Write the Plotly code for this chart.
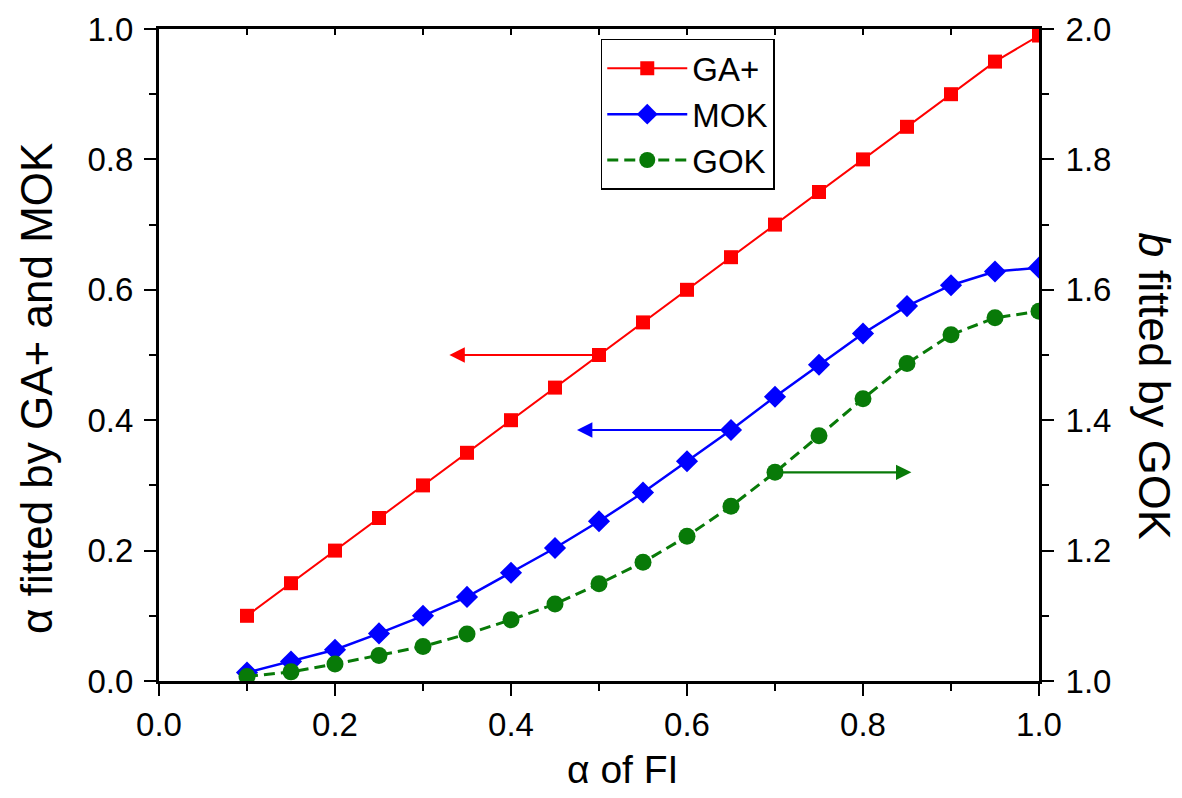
import plotly.graph_objects as go

alpha_fi = [0.1, 0.15, 0.2, 0.25, 0.3, 0.35, 0.4, 0.45, 0.5, 0.55,
            0.6, 0.65, 0.7, 0.75, 0.8, 0.85, 0.9, 0.95, 1.0]
ga_plus = [0.1, 0.15, 0.2, 0.25, 0.3, 0.35, 0.4, 0.45, 0.5, 0.55,
           0.6, 0.65, 0.7, 0.75, 0.8, 0.85, 0.9, 0.95, 0.99]
mok = [0.013, 0.030, 0.048, 0.073, 0.100, 0.129, 0.166, 0.204, 0.245, 0.289,
       0.337, 0.385, 0.436, 0.485, 0.533, 0.575, 0.607, 0.628, 0.634]
gok = [1.007, 1.014, 1.026, 1.039, 1.053, 1.072, 1.094, 1.118, 1.149, 1.182,
       1.222, 1.268, 1.320, 1.376, 1.433, 1.487, 1.531, 1.557, 1.567]

FONT = "Liberation Sans, Arial, sans-serif"
BLACK = "#000000"

fig = go.Figure()
fig.add_trace(go.Scatter(x=alpha_fi, y=ga_plus, name="GA+", mode="lines+markers",
                         line=dict(color="#ff0000", width=2),
                         marker=dict(symbol="square", size=14, color="#ff0000")))
fig.add_trace(go.Scatter(x=alpha_fi, y=mok, name="MOK", mode="lines+markers",
                         line=dict(color="#0000ff", width=2.5),
                         marker=dict(symbol="diamond", size=17, color="#0000ff")))
fig.add_trace(go.Scatter(x=alpha_fi, y=gok, name="GOK", mode="lines+markers",
                         yaxis="y2",
                         line=dict(color="#087a08", width=3, dash="11px,6px"),
                         marker=dict(symbol="circle", size=17, color="#087a08")))

axis_common = dict(showline=True, linecolor=BLACK, linewidth=3, showgrid=False,
                   zeroline=False, ticks="outside", ticklen=12, tickwidth=2,
                   automargin=False,
                   tickcolor=BLACK, tickfont=dict(family=FONT, size=33, color=BLACK))
minor = dict(dtick=0.1, ticks="outside", ticklen=7, tickwidth=2, tickcolor=BLACK)

fig.update_layout(
    width=1182, height=798,
    margin=dict(l=151, r=151, t=21, b=125, autoexpand=False),
    paper_bgcolor="white", plot_bgcolor="white",
    font=dict(family=FONT, color=BLACK),
    xaxis=dict(range=[0, 1], dtick=0.2, tick0=0, tickformat=".1f", minor=minor, **axis_common),
    xaxis2=dict(range=[0, 1], overlaying="x", side="top", showline=True, linecolor=BLACK,
                linewidth=3, ticks="inside", ticklen=6, tickwidth=2, tickcolor=BLACK,
                automargin=False,
                dtick=0.1, tick0=0, showticklabels=False, showgrid=False, zeroline=False),
    yaxis=dict(range=[0, 1], dtick=0.2, tick0=0, tickformat=".1f", minor=minor,
               ticklabelstandoff=4, **axis_common),
    yaxis2=dict(range=[1, 2], dtick=0.2, tick0=1, tickformat=".1f", overlaying="y", side="right",
                minor=minor, ticklabelstandoff=5, **axis_common),
    legend=dict(x=0.502, y=0.985, xanchor="left", yanchor="top",
                bgcolor="white", bordercolor=BLACK, borderwidth=1.5,
                font=dict(family=FONT, size=33, color=BLACK),
                itemwidth=80, tracegroupgap=0),
    showlegend=True,
)

# invisible trace to activate the mirrored top axis
fig.add_trace(go.Scatter(x=[0], y=[0], xaxis="x2", mode="markers",
                         marker=dict(opacity=0), showlegend=False, hoverinfo="skip"))

# arrows pointing each series to its axis
arrows = [
    (0.33, 0.5, 0.5, 0.5, "#ff0000"),
    (0.475, 0.385, 0.65, 0.385, "#0000ff"),
    (0.855, 0.32, 0.70, 0.32, "#087a08"),
]
for hx, hy, tx, ty, c in arrows:
    fig.add_annotation(x=hx, y=hy, ax=tx, ay=ty, xref="x", yref="y", axref="x", ayref="y",
                       showarrow=True, arrowhead=2, arrowsize=1.4, arrowwidth=2.2,
                       arrowcolor=c, text="")

# axis titles
fig.add_annotation(text="α of FI", xref="paper", yref="paper", x=0.527, y=-0.135,
                   xanchor="center", yanchor="middle", showarrow=False,
                   font=dict(family=FONT, size=39, color=BLACK))
fig.add_annotation(text="α fitted by GA+ and MOK", xref="paper", yref="paper",
                   x=-0.139, y=0.449, xanchor="center", yanchor="middle", textangle=-90,
                   showarrow=False, font=dict(family=FONT, size=44, color=BLACK))
fig.add_annotation(text="<i>b</i> fitted by GOK", xref="paper", yref="paper",
                   x=1.132, y=0.452, xanchor="center", yanchor="middle", textangle=90,
                   showarrow=False, font=dict(family=FONT, size=45, color=BLACK))

fig.write_html("out.html")
